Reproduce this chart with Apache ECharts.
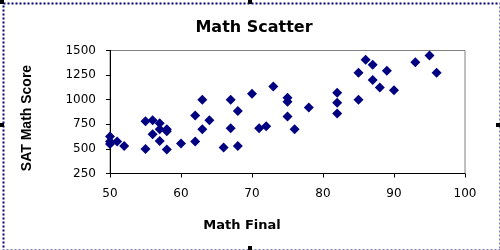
<!DOCTYPE html>
<html>
<head>
<meta charset="utf-8">
<script src="https://cdn.jsdelivr.net/npm/echarts@6/dist/echarts.min.js"></script>
<style>
html,body{margin:0;padding:0;background:#fff;}
#c{width:500px;height:250px;}
</style>
</head>
<body>
<div id="c"></div>
<script>
var titleText = 'Math Scatter';
var xName = 'Math Final';
var yName = 'SAT Math Score';
var mathFinal = [50,50,50,51,52,55,55,56,56,57,57,57,58,58,58,60,62,62,63,63,64,66,67,67,68,68,70,71,72,73,75,75,75,76,78,82,82,82,85,85,86,87,87,88,89,90,93,95,96];
var satMath = [625,575,550,575,530,780,500,790,650,760,700,580,700,680,495,555,840,575,1000,700,790,515,1000,710,885,530,1060,710,730,1135,1020,978,830,700,920,1070,970,860,1275,1000,1405,1355,1200,1125,1295,1095,1380,1450,1275];
var xRange = [50, 100, 10];
var yRange = [250, 1500, 250];

var points = mathFinal.map(function (x, i) { return [x, satMath[i]]; });

var chart = echarts.init(document.getElementById('c'), null, {renderer: 'canvas'});
var handles = [[0,0],[248,0],[0,123],[496,123],[248,246]];
var graphics = [{
  type: 'rect', left: 1, top: 1, z: 10, silent: true,
  shape: {x: 0, y: 0, width: 497, height: 247},
  style: {fill: 'none', stroke: '#000080', lineWidth: 2, lineDash: [2, 2]}
}];
handles.forEach(function (h) {
  graphics.push({type: 'rect', z: 11, silent: true, shape: {x: h[0], y: h[1], width: 4, height: 4}, style: {fill: '#000'}});
});

chart.setOption({
  animation: false,
  backgroundColor: '#fff',
  title: {
    text: titleText, left: 249, textAlign: 'center', top: 15,
    textStyle: {fontFamily: 'DejaVu Sans', fontWeight: 'bold', fontSize: 16, color: '#000'}
  },
  grid: {left: 110, right: 35, top: 50.5, bottom: 76.5, show: true, borderColor: '#808080', borderWidth: 1, backgroundColor: 'transparent'},
  xAxis: {
    type: 'value', min: xRange[0], max: xRange[1], interval: xRange[2],
    name: xName, nameLocation: 'middle', nameGap: 46,
    nameTextStyle: {fontFamily: 'DejaVu Sans', fontWeight: 'bold', fontSize: 13, color: '#000', padding: [0, 91, 0, 0]},
    axisLine: {show: true, onZero: false, lineStyle: {color: '#000', width: 1}},
    axisTick: {show: true, length: 4, lineStyle: {color: '#000'}},
    axisLabel: {margin: 14, fontFamily: 'DejaVu Sans', fontSize: 12, color: '#000', formatter: function (v) { return String(v); }},
    splitLine: {show: false}
  },
  yAxis: {
    type: 'value', min: yRange[0], max: yRange[1], interval: yRange[2],
    name: yName, nameLocation: 'middle', nameGap: 76,
    nameTextStyle: {fontFamily: 'Liberation Sans Narrow, Arial Narrow, Liberation Sans, sans-serif', fontWeight: 'bold', fontSize: 14, color: '#000', padding: [0, 12, 0, 0]},
    axisLine: {show: true, onZero: false, lineStyle: {color: '#000', width: 1}},
    axisTick: {show: true, length: 4, lineStyle: {color: '#000'}},
    axisLabel: {margin: 14, fontFamily: 'DejaVu Sans', fontSize: 12, color: '#000', formatter: function (v) { return String(v); }},
    splitLine: {show: false}
  },
  series: [{
    type: 'scatter',
    data: points,
    symbol: 'diamond',
    symbolSize: [10, 10],
    itemStyle: {color: '#000080', opacity: 1}
  }],
  graphic: graphics
});
</script>
</body>
</html>
